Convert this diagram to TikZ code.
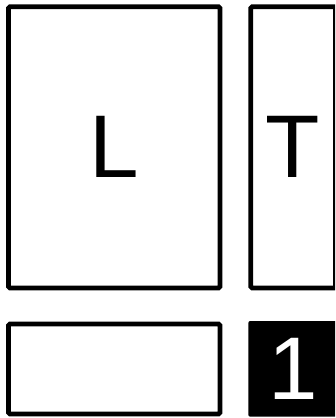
\documentclass[tikz,border=0pt]{standalone}
\usepackage{fontspec}
\setmainfont{Liberation Sans}
\usepackage{tikz}
\usetikzlibrary{positioning}

\begin{document}
\begin{tikzpicture}[x=1pt,y=-1pt,
  panel/.style={draw=black,line width=4.7pt,fill=white,rounded corners=1.5pt,
    inner sep=0pt,font=\fontsize{89}{89}\selectfont},
  tile/.style={fill=black,text=white,rounded corners=2pt,inner sep=0pt,
    font=\fontsize{89}{89}\selectfont}]
\useasboundingbox (0,0) rectangle (335,418);
\clip (0,0) rectangle (335,418);
\node[panel,minimum width=211.5pt,minimum height=281.3pt] (lpanel) at (114.25,147.35) {L};
\node[panel,minimum width=84.7pt,minimum height=281.3pt] (tpanel) at (293.15,147.35) {T};
\node[panel,minimum width=211.5pt,minimum height=90pt] (blank) at (114.25,369) {};
\node[tile,minimum width=90.4pt,minimum height=95.7pt] (count) at (293.5,368.85) {1};
\end{tikzpicture}
\end{document}
